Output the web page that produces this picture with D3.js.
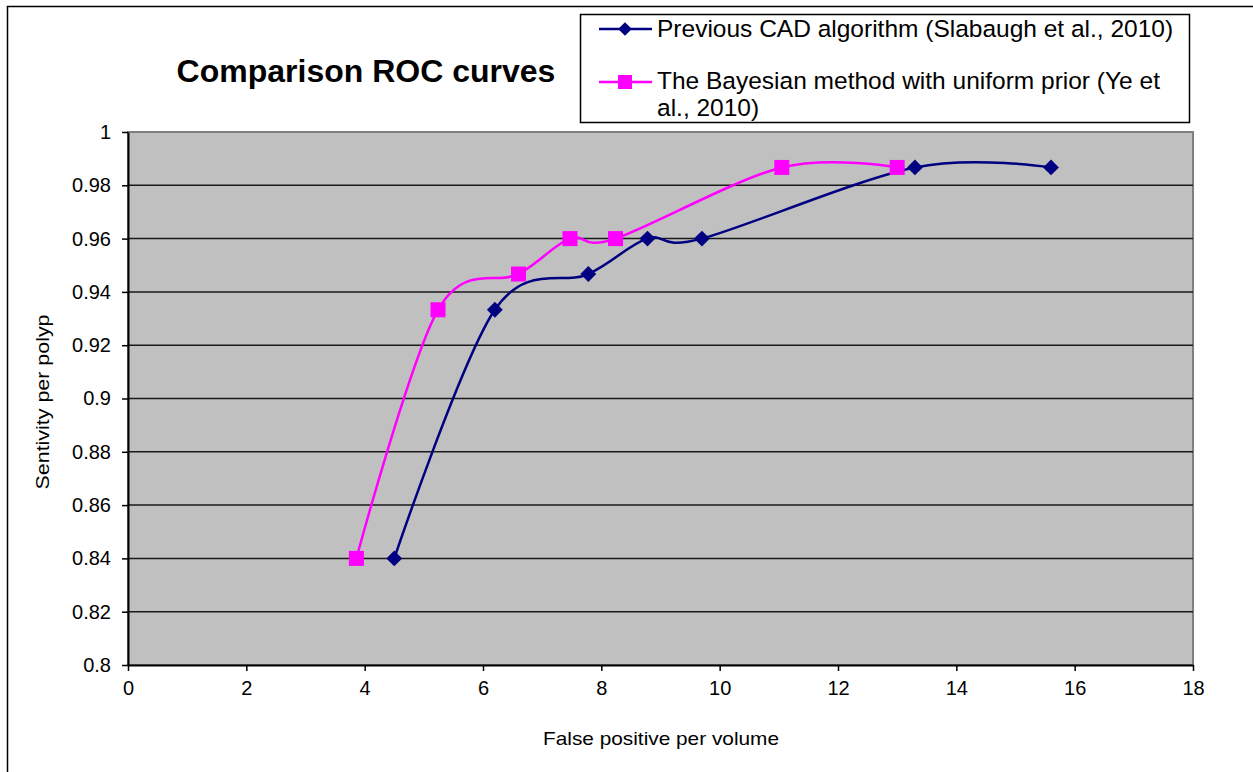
<!DOCTYPE html>
<html>
<head>
<meta charset="utf-8">
<title>Comparison ROC curves</title>
<script src="https://d3js.org/d3.v7.min.js"></script>
<style>
body { margin: 0; background: #fff; }
text { font-family: "Liberation Sans", Arial, sans-serif; fill: #000; }
</style>
</head>
<body>
<div id="chart"></div>
<script>
// data
var cadX = [4.5, 6.2, 7.78, 8.78, 9.7, 13.3, 15.6];
var cadY = [0.84, 0.9333, 0.9467, 0.96, 0.96, 0.9867, 0.9867];
var bayesX = [3.86, 5.24, 6.6, 7.47, 8.24, 11.05, 13.0];
var bayesY = [0.84, 0.9333, 0.9467, 0.96, 0.96, 0.9867, 0.9867];
var seriesNames = ["Previous CAD algorithm (Slabaugh et al., 2010)",
                   "The Bayesian method with uniform prior (Ye et al., 2010)"];
var xTicks = [0, 2, 4, 6, 8, 10, 12, 14, 16, 18];
var yTicks = [0.8, 0.82, 0.84, 0.86, 0.88, 0.9, 0.92, 0.94, 0.96, 0.98, 1];

var W = 1253, H = 772;
var plot = {left: 128, top: 132, right: 1193, bottom: 665};

var svg = d3.select("#chart").append("svg")
    .attr("width", W)
    .attr("height", H);

// outer frame
svg.append("rect")
    .attr("x", 7.5).attr("y", 6.5)
    .attr("width", 1260).attr("height", 780)
    .attr("fill", "none").attr("stroke", "#000").attr("stroke-width", 1.5);

var x = d3.scaleLinear().domain([0, 18]).range([plot.left, plot.right]);
var y = d3.scaleLinear().domain([0.8, 1]).range([plot.bottom, plot.top]);

// plot area
svg.append("rect")
    .attr("x", plot.left).attr("y", plot.top)
    .attr("width", plot.right - plot.left).attr("height", plot.bottom - plot.top)
    .attr("fill", "#c0c0c0")
    .attr("stroke", "#808080").attr("stroke-width", 2);

// horizontal grid
svg.append("g")
  .selectAll("line")
  .data(yTicks.filter(function(d) { return d > 0.8 && d < 1; }))
  .enter().append("line")
    .attr("x1", plot.left).attr("x2", plot.right)
    .attr("y1", function(d) { return y(d); })
    .attr("y2", function(d) { return y(d); })
    .attr("stroke", "#1a1a1a").attr("stroke-width", 1.5);

// axes
var xAxis = svg.append("g")
    .attr("transform", "translate(0," + plot.bottom + ")")
    .call(d3.axisBottom(x).tickValues(xTicks).tickSize(6).tickPadding(7).tickSizeOuter(0));
var yAxis = svg.append("g")
    .attr("transform", "translate(" + plot.left + ",0)")
    .call(d3.axisLeft(y).tickValues(yTicks).tickSize(6).tickPadding(11).tickSizeOuter(0)
      .tickFormat(function(d) { return d3.format("")(+d.toFixed(2)); }));

[xAxis, yAxis].forEach(function(a) {
  a.select(".domain").attr("stroke", "#000").attr("stroke-width", 2);
  a.selectAll(".tick line").attr("stroke", "#000").attr("stroke-width", 1.5);
  a.selectAll(".tick text").attr("font-size", 20).attr("fill", "#000")
    .style("font-family", "'Liberation Sans', Arial, sans-serif");
});
xAxis.selectAll(".tick text").attr("dy", "0.85em");

// title + axis titles
svg.append("text")
    .attr("x", 366).attr("y", 82)
    .attr("text-anchor", "middle")
    .attr("font-size", 32).attr("font-weight", "bold")
    .text("Comparison ROC curves");

svg.append("text")
    .attr("x", 661).attr("y", 745)
    .attr("text-anchor", "middle")
    .attr("font-size", 19)
    .attr("textLength", 236).attr("lengthAdjust", "spacingAndGlyphs")
    .text("False positive  per volume");

svg.append("text")
    .attr("transform", "translate(49,402) rotate(-90)")
    .attr("text-anchor", "middle")
    .attr("font-size", 18)
    .attr("textLength", 175).attr("lengthAdjust", "spacingAndGlyphs")
    .text("Sentivity  per polyp");

// series
var line = d3.line()
    .x(function(d) { return x(d[0]); })
    .y(function(d) { return y(d[1]); })
    .curve(d3.curveCardinal.tension(0));

var cad = cadX.map(function(v, i) { return [v, cadY[i]]; });
var bayes = bayesX.map(function(v, i) { return [v, bayesY[i]]; });

var colors = ["#000080", "#ff00ff"];
var diamond = d3.symbol().type(d3.symbolDiamond2).size(160);

svg.append("path").datum(bayes)
    .attr("d", line).attr("fill", "none")
    .attr("stroke", colors[1]).attr("stroke-width", 2.5);
svg.append("path").datum(cad)
    .attr("d", line).attr("fill", "none")
    .attr("stroke", colors[0]).attr("stroke-width", 2.5);

svg.append("g").selectAll("rect")
  .data(bayes)
  .enter().append("rect")
    .attr("x", function(d) { return x(d[0]) - 7.5; })
    .attr("y", function(d) { return y(d[1]) - 7.5; })
    .attr("width", 15).attr("height", 15)
    .attr("fill", colors[1]);

svg.append("g").selectAll("path")
  .data(cad)
  .enter().append("path")
    .attr("transform", function(d) { return "translate(" + x(d[0]) + "," + y(d[1]) + ")"; })
    .attr("d", diamond)
    .attr("fill", colors[0]);

// legend
var legend = svg.append("g");
legend.append("rect")
    .attr("x", 580.5).attr("y", 14.5)
    .attr("width", 609).attr("height", 108)
    .attr("fill", "#fff").attr("stroke", "#000").attr("stroke-width", 1.5);

legend.append("line")
    .attr("x1", 599).attr("x2", 652).attr("y1", 29).attr("y2", 29)
    .attr("stroke", colors[0]).attr("stroke-width", 2.5);
legend.append("path")
    .attr("transform", "translate(625,29)")
    .attr("d", d3.symbol().type(d3.symbolDiamond2).size(120))
    .attr("fill", colors[0]);
legend.append("text")
    .attr("x", 657).attr("y", 37)
    .attr("font-size", 24.5)
    .text(seriesNames[0]);

legend.append("line")
    .attr("x1", 599).attr("x2", 652).attr("y1", 82).attr("y2", 82)
    .attr("stroke", colors[1]).attr("stroke-width", 2.5);
legend.append("rect")
    .attr("x", 618).attr("y", 75).attr("width", 14).attr("height", 14)
    .attr("fill", colors[1]);
var t2 = legend.append("text")
    .attr("x", 657).attr("y", 89)
    .attr("font-size", 24.5);
t2.append("tspan").text("The Bayesian method with uniform prior (Ye et");
t2.append("tspan").attr("x", 657).attr("dy", 27).text("al., 2010)");
</script>
</body>
</html>
